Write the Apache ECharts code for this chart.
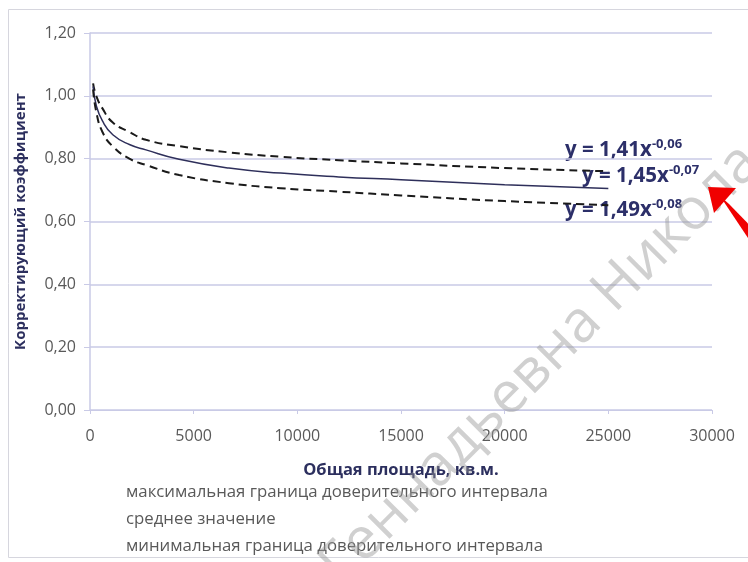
<!DOCTYPE html>
<html>
<head>
<meta charset="utf-8">
<script src="https://cdn.jsdelivr.net/npm/echarts@6/dist/echarts.min.js"></script>
<style>html,body{margin:0;padding:0;background:#fff}#c{width:748px;height:562px}</style>
</head>
<body>
<div id="c"></div>
<script>
const xValues = [150, 300, 600, 1100, 1900, 2700, 4300, 6700, 9200, 12000, 15000, 20000, 25000];
const upperValues = [1.04, 1.00, 0.96, 0.915, 0.885, 0.86, 0.84, 0.82, 0.806, 0.795, 0.785, 0.77, 0.76];
const meanValues = [1.03, 0.97, 0.92, 0.876, 0.845, 0.828, 0.798, 0.77, 0.754, 0.742, 0.733, 0.717, 0.705];
const lowerValues = [1.02, 0.95, 0.885, 0.839, 0.80, 0.78, 0.748, 0.722, 0.706, 0.695, 0.683, 0.665, 0.652];
const seriesNames = ['максимальная граница доверительного интервала', 'среднее значение', 'минимальная граница доверительного интервала'];
const equations = [
  {coef: 'y = 1,41x', exp: '-0,06'},
  {coef: 'y = 1,45x', exp: '-0,07'},
  {coef: 'y = 1,49x', exp: '-0,08'}
];
const xAxisName = 'Общая площадь, кв.м.';
const yAxisName = 'Корректирующий коэффициент';
const watermark = 'Геннадьевна Николаева';

const pair = (vals) => xValues.map((x, i) => [x, vals[i]]);
const chart = echarts.init(document.getElementById('c'));
const font = '"Open Sans", "Noto Sans", sans-serif';
const gridColor = '#c9cae6';
const navy = '#2c2f69';
const eqRich = {
  c: {fontSize: 20.5, fontWeight: 'bold', fill: navy, fontFamily: font},
  e: {fontSize: 13, fontWeight: 'bold', fill: navy, fontFamily: font, verticalAlign: 'top', padding: [0, 0, 12, 0]}
};
chart.setOption({
  animation: false,
  textStyle: {fontFamily: font},
  grid: {left: 90, right: 36, top: 33, bottom: 152},
  legend: {
    data: seriesNames, orient: 'vertical', left: 121, top: 481, itemGap: 5, padding: 0, height: 80,
    itemWidth: 0, itemHeight: 0, icon: 'rect',
    textStyle: {fontSize: 16.8, lineHeight: 22, color: '#595959', fontFamily: font}
  },
  xAxis: {
    type: 'value', min: 0, max: 30000, interval: 5000,
    name: xAxisName, nameLocation: 'middle', nameGap: 52,
    nameTextStyle: {fontSize: 16.5, fontWeight: 'bold', color: '#2c2f5e'},
    axisLine: {show: true, lineStyle: {color: gridColor}},
    axisTick: {show: true, length: 4, lineStyle: {color: gridColor}},
    axisLabel: {fontSize: 16, color: '#595959', margin: 18, formatter: v => String(v)},
    splitLine: {show: false}
  },
  yAxis: {
    type: 'value', min: 0, max: 1.2, interval: 0.2,
    name: yAxisName, nameLocation: 'middle', nameGap: 62, nameRotate: 90,
    nameTextStyle: {fontSize: 15, fontWeight: 'bold', color: '#2c2f5e'},
    axisLine: {show: true, lineStyle: {color: gridColor, width: 1.5}},
    axisTick: {show: true, length: 6, inside: false, lineStyle: {color: gridColor}},
    axisLabel: {fontSize: 16, color: '#595959', margin: 14, formatter: v => v.toFixed(2).replace('.', ',')},
    splitLine: {show: true, lineStyle: {color: gridColor, width: 1.5}}
  },
  series: [
    {name: seriesNames[0], type: 'line', smooth: true, symbol: 'none', data: pair(upperValues),
     lineStyle: {color: '#1a1a1a', width: 2, type: [8, 5]}},
    {name: seriesNames[1], type: 'line', smooth: true, symbol: 'none', data: pair(meanValues),
     lineStyle: {color: '#2e2f5a', width: 1.5}},
    {name: seriesNames[2], type: 'line', smooth: true, symbol: 'none', data: pair(lowerValues),
     lineStyle: {color: '#1a1a1a', width: 2, type: [8, 5]}}
  ],
  graphic: [
    {type: 'rect', shape: {x: 8.5, y: 9.5, width: 760, height: 548}, style: {fill: 'none', stroke: '#d6d6de', lineWidth: 1}, silent: true},
    {type: 'text', left: 565, top: 138, style: {text: '{c|' + equations[0].coef + '}{e|' + equations[0].exp + '}', rich: eqRich}},
    {type: 'text', left: 582, top: 164, style: {text: '{c|' + equations[1].coef + '}{e|' + equations[1].exp + '}', rich: eqRich}},
    {type: 'text', left: 565, top: 198, style: {text: '{c|' + equations[2].coef + '}{e|' + equations[2].exp + '}', rich: eqRich}},
    {type: 'text', x: 330, y: 575, rotation: Math.PI / 180 * 45,
     style: {text: watermark, fontSize: 58, fontFamily: font, fill: 'rgba(150,150,150,0.45)', textVerticalAlign: 'middle', textAlign: 'left'}, silent: true, z: 100},
    {type: 'polygon', shape: {points: [[708, 187], [736, 188], [714, 213]]}, style: {fill: '#f00000'}, z: 101},
    {type: 'polygon', shape: {points: [[720, 196], [729, 204], [760, 236], [752, 244]]}, style: {fill: '#f00000'}, z: 101}
  ]
});
</script>
</body>
</html>
